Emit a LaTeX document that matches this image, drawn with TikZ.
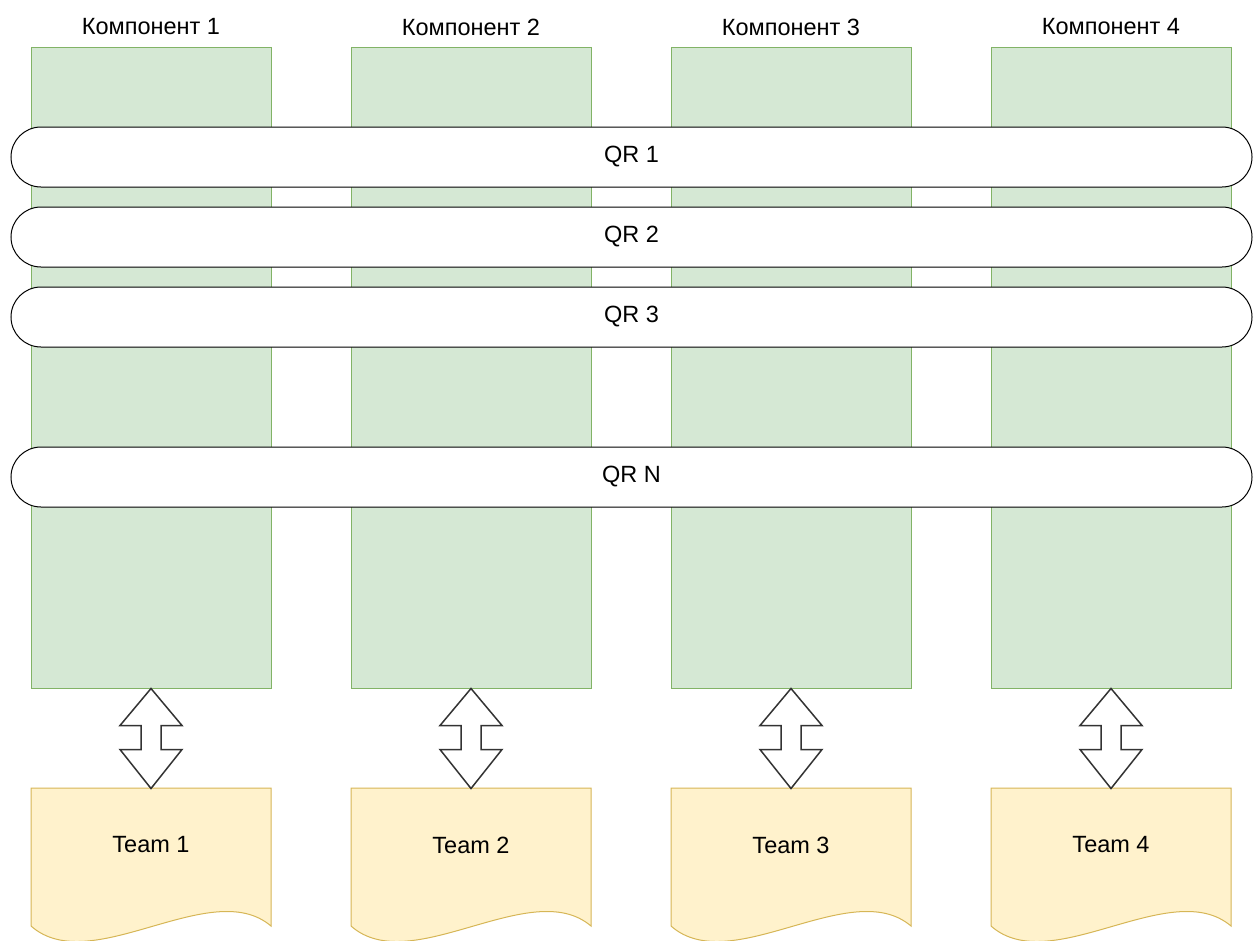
\documentclass[tikz,border=0pt]{standalone}
\usepackage{fontspec}
\setmainfont{Liberation Sans}

\definecolor{compfill}{HTML}{D5E8D4}
\definecolor{compline}{HTML}{82B366}
\definecolor{teamfill}{HTML}{FFF2CC}
\definecolor{teamline}{HTML}{D6B656}
\definecolor{arrline}{HTML}{333333}

\begin{document}
\begin{tikzpicture}[x=1pt, y=-1pt]

\tikzstyle{comp}=[rectangle, draw=compline, fill=compfill, line width=1pt, minimum width=240pt, minimum height=641pt, inner sep=0pt]
\tikzstyle{title}=[inner sep=0pt, font=\fontsize{23.5}{28}\selectfont]
\tikzstyle{qr}=[rectangle, rounded corners=30pt, draw=black, fill=white, line width=1pt, minimum width=1241pt, minimum height=60pt, inner sep=0pt, font=\fontsize{23.5}{28}\selectfont]
\tikzstyle{dblarrow}=[draw=arrline, fill=white, line width=1.5pt, line join=miter]
\tikzstyle{teamdoc}=[draw=teamline, fill=teamfill, line width=1pt]
\tikzstyle{teamtext}=[inner sep=0pt, font=\fontsize{23.5}{28}\selectfont]

\useasboundingbox (0,0) rectangle (1255,940);

% columns
\node (c1) [comp] at (151,367.5) {};
\node (c2) [comp] at (471,367.5) {};
\node (c3) [comp] at (791,367.5) {};
\node (c4) [comp] at (1111,367.5) {};

\node (l1) [title] at (151,27) {Компонент 1};
\node (l2) [title] at (471,27) {Компонент 2};
\node (l3) [title] at (791,27) {Компонент 3};
\node (l4) [title] at (1111,27) {Компонент 4};

% requirement bars across all columns
\node (qr1) [qr] at (631.5,157) {QR 1};
\node (qr2) [qr] at (631.5,237) {QR 2};
\node (qr3) [qr] at (631.5,317) {QR 3};
\node (qrn) [qr] at (631.5,477) {QR N};

% teams
\draw [teamdoc] (31,788) -- (271,788) -- (271,926) .. controls (211,875) and (91,979) .. (31,926) -- cycle;
\draw [teamdoc] (351,788) -- (591,788) -- (591,926) .. controls (531,875) and (411,979) .. (351,926) -- cycle;
\draw [teamdoc] (671,788) -- (911,788) -- (911,926) .. controls (851,875) and (731,979) .. (671,926) -- cycle;
\draw [teamdoc] (991,788) -- (1231,788) -- (1231,926) .. controls (1171,875) and (1051,979) .. (991,926) -- cycle;

\node (t1) [teamtext] at (151,845) {Team 1};
\node (t2) [teamtext] at (471,845) {Team 2};
\node (t3) [teamtext] at (791,845) {Team 3};
\node (t4) [teamtext] at (1111,845) {Team 4};

% two-way arrows between column and team
\draw [dblarrow] (c1.south) -- ++(31,37) -- ++(-21,0) -- ++(0,24) -- ++(21,0) -- ++(-31,39) -- ++(-31,-39) -- ++(21,0) -- ++(0,-24) -- ++(-21,0) -- cycle;
\draw [dblarrow] (c2.south) -- ++(31,37) -- ++(-21,0) -- ++(0,24) -- ++(21,0) -- ++(-31,39) -- ++(-31,-39) -- ++(21,0) -- ++(0,-24) -- ++(-21,0) -- cycle;
\draw [dblarrow] (c3.south) -- ++(31,37) -- ++(-21,0) -- ++(0,24) -- ++(21,0) -- ++(-31,39) -- ++(-31,-39) -- ++(21,0) -- ++(0,-24) -- ++(-21,0) -- cycle;
\draw [dblarrow] (c4.south) -- ++(31,37) -- ++(-21,0) -- ++(0,24) -- ++(21,0) -- ++(-31,39) -- ++(-31,-39) -- ++(21,0) -- ++(0,-24) -- ++(-21,0) -- cycle;

\end{tikzpicture}
\end{document}
